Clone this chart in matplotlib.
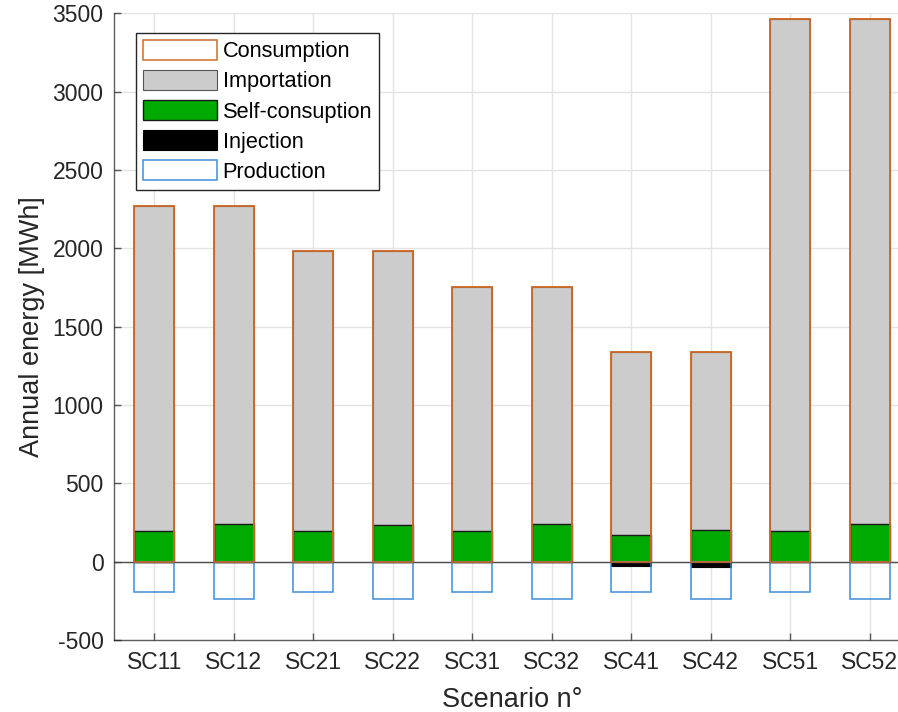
import matplotlib
matplotlib.use("Agg")
import matplotlib.pyplot as plt
import numpy as np

scenarios = ["SC11", "SC12", "SC21", "SC22", "SC31", "SC32", "SC41", "SC42", "SC51", "SC52"]
consumption = [2272, 2272, 1983, 1983, 1752, 1752, 1338, 1338, 3463, 3463]
self_consumption = [195, 238, 194, 234, 195, 238, 170, 202, 195, 238]
injection = [0, 0, 0, 3, 0, 0, 25, 36, 0, 0]
production = [195, 238, 195, 238, 195, 238, 195, 238, 195, 238]
importation = [c - s for c, s in zip(consumption, self_consumption)]

plt.rcParams["font.family"] = ["Liberation Sans", "DejaVu Sans"]
plt.rcParams["axes.unicode_minus"] = False
TXT = "#262626"
ORANGE = "#CC6A28"
BLUE = "#3a8ad8"

fig = plt.figure(figsize=(8.98, 7.12), dpi=100)
ax = fig.add_axes([0.1275, 0.1011, 0.8853, 0.8802])

x = np.arange(1, len(scenarios) + 1)
w = 0.5

ax.bar(x, consumption, w, facecolor="none", edgecolor=ORANGE, linewidth=1.2, alpha=0.9,
       zorder=2, label="Consumption")
ax.bar(x, importation, w, bottom=self_consumption, facecolor="#CCCCCC", edgecolor="#555555",
       linewidth=0.8, zorder=1.5, label="Importation")
ax.bar(x, self_consumption, w, facecolor="#00AA00", edgecolor="#1a1a1a", linewidth=1.0,
       zorder=1.6, label="Self-consuption")
ax.bar(x, [-v for v in injection], w, facecolor="black", edgecolor="black", linewidth=0.8,
       zorder=1.6, label="Injection")
ax.bar(x, [-v for v in production], w, facecolor="none", edgecolor=BLUE, linewidth=1.2,
       alpha=0.9, zorder=2.1, label="Production")
ax.axhline(0, color="#4d4d4d", linewidth=1.0, zorder=2.2)

# re-draw consumption outline over the stacked fills
ax.bar(x, consumption, w, facecolor="none", edgecolor=ORANGE, linewidth=1.2, alpha=0.9,
       zorder=2.3)

ax.set_xlim(0.5, 10.5)
ax.set_ylim(-500, 3500)
ax.set_xticks(x)
ax.set_xticklabels(scenarios)
ax.set_yticks(np.arange(-500, 3501, 500))

ax.grid(True, color="#e3e3e3", linewidth=1.0, zorder=0)
ax.set_axisbelow(True)
for side in ["top", "right"]:
    ax.spines[side].set_visible(False)
for side in ["left", "bottom"]:
    ax.spines[side].set_color(TXT)
    ax.spines[side].set_linewidth(1.0)
    ax.spines[side].set_alpha(0.75)
ax.tick_params(direction="in", length=5, width=1, colors="#555555", labelcolor=TXT,
               labelsize=16.5, pad=8)

ax.set_xlabel("Scenario n°", fontsize=19.5, color=TXT, labelpad=9)
ax.set_ylabel("Annual energy [MWh]", fontsize=19.5, color=TXT, labelpad=5)

handles, labels = ax.get_legend_handles_labels()
leg = ax.legend(handles[:5], labels[:5], loc="upper left", bbox_to_anchor=(0.027, 0.9686),
                borderaxespad=0, fontsize=15.7, handlelength=3.4, handleheight=1.0,
                handletextpad=0.25, labelspacing=0.36, borderpad=0.33, fancybox=False,
                framealpha=1, edgecolor=TXT)
leg.get_frame().set_linewidth(1.0)
for t in leg.get_texts():
    t.set_color("black")

fig.savefig("out.png", dpi=100)
